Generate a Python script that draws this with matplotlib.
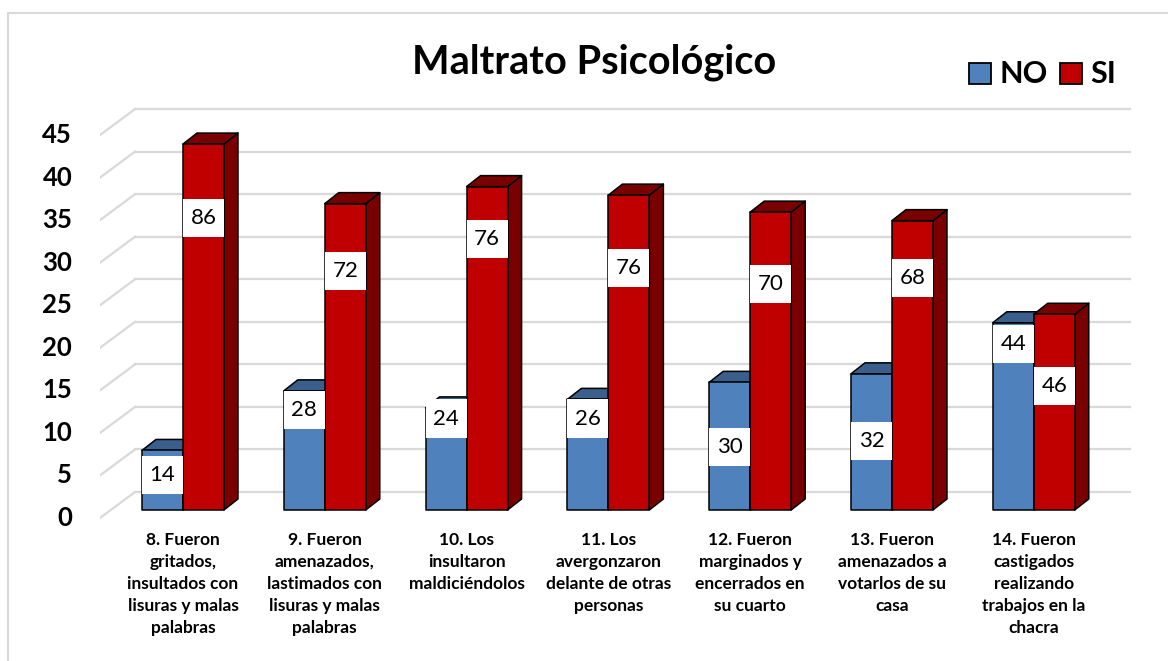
import numpy as np
import matplotlib.pyplot as plt
from matplotlib.patches import Polygon, Rectangle
from matplotlib.lines import Line2D

plt.rcParams['font.family'] = ['Lato', 'DejaVu Sans']

categorias = [
    "8. Fueron\ngritados,\ninsultados con\nlisuras y malas\npalabras",
    "9. Fueron\namenazados,\nlastimados con\nlisuras y malas\npalabras",
    "10. Los\ninsultaron\nmaldiciéndolos",
    "11. Los\navergonzaron\ndelante de otras\npersonas",
    "12. Fueron\nmarginados y\nencerrados en\nsu cuarto",
    "13. Fueron\namenazados a\nvotarlos de su\ncasa",
    "14. Fueron\ncastigados\nrealizando\ntrabajos en la\nchacra",
]
no_vals = [7, 14, 12, 13, 15, 16, 22]
si_vals = [43, 36, 38, 37, 35, 34, 23]
no_etiq = ["14", "28", "24", "26", "30", "32", "44"]
si_etiq = ["86", "72", "76", "76", "70", "68", "46"]
# altura donde quedaron las etiquetas en el original (unidades del eje)
no_pos = [4.1, 11.75, 10.75, 10.75, 7.4, 8.1, 19.5]
si_pos = [34.3, 28.1, 31.8, 28.4, 26.6, 27.3, 14.6]
yticks = list(range(0, 50, 5))

azul, azul_osc = "#4F81BD", "#3A5F8C"
rojo, rojo_osc = "#C00000", "#7A0000"
gris = "#D9D9D9"

W = 0.289      # ancho de cada barra
DX, DY = 0.099, 1.29   # profundidad 3D
X0, XB, XR = -0.585, -0.338, 6.679
FRONT, BACK = -0.94, 2.11

fig = plt.figure(figsize=(11.68, 6.61), dpi=100)
ax = fig.add_axes([100/1168, (661-520.2)/661, 1035/1168, (520.2-101.5)/661])
ax.set_xlim(X0, 6.714)
ax.set_ylim(-1.2, 48)
ax.axis('off')

# rejilla (pared del fondo + piso inclinado)
for v in yticks:
    ax.plot([XB, XR], [v + BACK, v + BACK], color=gris, lw=1.6, zorder=1)
    ax.plot([X0, XB], [v + FRONT, v + BACK], color=gris, lw=1.6, zorder=1)
    ax.annotate(str(v), (0, v + FRONT), xycoords=ax.get_yaxis_transform(),
                xytext=(-20, 0), textcoords='offset points', ha='right', va='center',
                fontsize=18.5, fontweight='bold', annotation_clip=False)


def barra3d(x0, h, cara, oscuro, z):
    x1 = x0 + W
    kw = dict(ec='black', lw=1.1, zorder=z, joinstyle='round')
    ax.add_patch(Polygon([(x1, 0), (x1 + DX, DY), (x1 + DX, h + DY), (x1, h)], fc=oscuro, **kw))
    ax.add_patch(Polygon([(x0, h), (x0 + DX, h + DY), (x1 + DX, h + DY), (x1, h)], fc=oscuro, **kw))
    ax.add_patch(Rectangle((x0, 0), W, h, fc=cara, **kw))


def etiqueta(x0, y, txt):
    hb = 4.47
    ax.add_patch(Rectangle((x0, y - hb/2), W, hb, fc='white', ec='none', zorder=20))
    ax.text(x0 + W/2, y, txt, ha='center', va='center', fontsize=16, zorder=21)


x = np.arange(len(categorias))
for i in x:
    barra3d(i - W, no_vals[i], azul, azul_osc, 3 + 2*i)
    barra3d(i, si_vals[i], rojo, rojo_osc, 4 + 2*i)
    etiqueta(i - W, no_pos[i], no_etiq[i])
    etiqueta(i, si_pos[i], si_etiq[i])
    ax.text(i, -2.6, categorias[i], ha='center', va='top', fontsize=12.5,
            fontweight='bold', linespacing=1.45, clip_on=False)

fig.text(594/1168, 1 - 62/661, "Maltrato Psicológico", ha='center', va='center',
         fontsize=28.5, fontweight='bold')

# leyenda
for x0, c, lab, xt in [(969, azul, "NO", 1000), (1060, rojo, "SI", 1090)]:
    fig.add_artist(Rectangle((x0/1168, 1 - 84/661), 22/1168, 21/661, fc=c, ec='black',
                             lw=1.3, transform=fig.transFigure))
    fig.text(xt/1168, 1 - 74/661, lab, ha='left', va='center', fontsize=22, fontweight='bold')

# marco
fig.add_artist(Line2D([8/1168, 8/1168], [0, 1 - 13/661], color=gris, lw=1.5, transform=fig.transFigure))
fig.add_artist(Line2D([8/1168, 1], [1 - 13/661, 1 - 13/661], color=gris, lw=1.5, transform=fig.transFigure))

fig.savefig("out.png", dpi=100)
